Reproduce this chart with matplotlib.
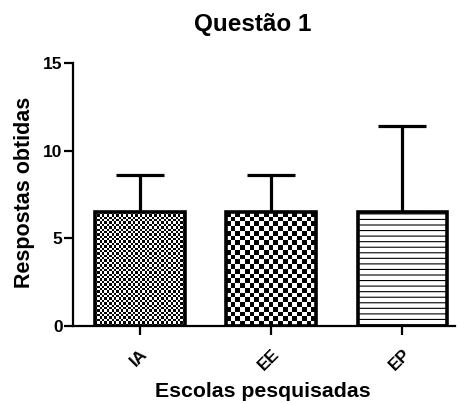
import numpy as np
import matplotlib
matplotlib.use('Agg')
import matplotlib.pyplot as plt

categories = ['IA', 'EE', 'EP']
means = [6.5, 6.5, 6.5]
upper_err = [2.1, 2.1, 4.9]
yticks = [0, 5, 10, 15]
title = 'Questão 1'
xlabel = 'Escolas pesquisadas'
ylabel = 'Respostas obtidas'

plt.rcParams['font.family'] = ['Liberation Sans', 'DejaVu Sans']
plt.rcParams['font.weight'] = 'bold'
plt.rcParams['hatch.linewidth'] = 0.8

W, H = 459, 403
fig = plt.figure(figsize=(W / 100, H / 100), dpi=100)
ax = fig.add_axes([73 / W, 1 - 326 / H, (455 - 73) / W, (326 - 63) / H])

x = np.arange(len(categories))
ax.errorbar(x, means, yerr=[np.zeros(len(x)), upper_err], fmt='none',
            ecolor='black', elinewidth=2.3, capsize=17, capthick=2.3, zorder=1)
bars = ax.bar(x, means, width=0.685, color='white', edgecolor='black',
              linewidth=0, zorder=2)
bars[2].set_hatch('---')
ax.set_xlim(-0.51, 2.4)
ax.set_ylim(0, 15)

# checkerboard textures
cell_px = [2.35, 4.7]
for i, cp in enumerate(cell_px):
    bb = bars[i].get_bbox()
    p0 = ax.transData.transform((bb.x0, bb.y0))
    p1 = ax.transData.transform((bb.x1, bb.y1))
    nx = max(1, int(round(abs(p1[0] - p0[0]) / cp)))
    ny = max(1, int(round(abs(p1[1] - p0[1]) / cp)))
    arr = np.add.outer(np.arange(ny), np.arange(nx)) % 2
    im = ax.imshow(arr, extent=[bb.x0, bb.x1, bb.y0, bb.y1], cmap='gray',
                   interpolation='nearest', aspect='auto', zorder=2.5,
                   vmin=0, vmax=1)
    im.set_clip_path(bars[i])

ax.bar(x, means, width=0.685, facecolor='none', edgecolor='black',
       linewidth=2.6, zorder=3)
ax.set_xlim(-0.51, 2.4)
ax.set_ylim(0, 15)

for s in ['top', 'right']:
    ax.spines[s].set_visible(False)
for s in ['left', 'bottom']:
    ax.spines[s].set_linewidth(1.6)

ax.set_yticks(yticks)
ax.set_yticklabels([str(v) for v in yticks], fontsize=12.5, fontweight='bold')
ax.set_xticks(x)
ax.set_xticklabels(categories, fontsize=12.5, fontweight='bold', rotation=45,
                   ha='right', va='top', rotation_mode='anchor')
ax.tick_params(axis='both', width=1.6, length=6.5, direction='out')
ax.tick_params(axis='y', pad=1)
ax.tick_params(axis='x', pad=8)

fig.text(253 / W, 1 - 31 / H, title, fontsize=17.5, fontweight='bold',
         ha='center', va='baseline')
fig.text(262.5 / W, 1 - 397 / H, xlabel, fontsize=15.3, fontweight='bold',
         ha='center', va='baseline')
fig.text(25 / W, 1 - 192 / H, ylabel, fontsize=15.5, fontweight='bold',
         ha='center', va='center', rotation=90)

fig.savefig('out.png', dpi=100)
